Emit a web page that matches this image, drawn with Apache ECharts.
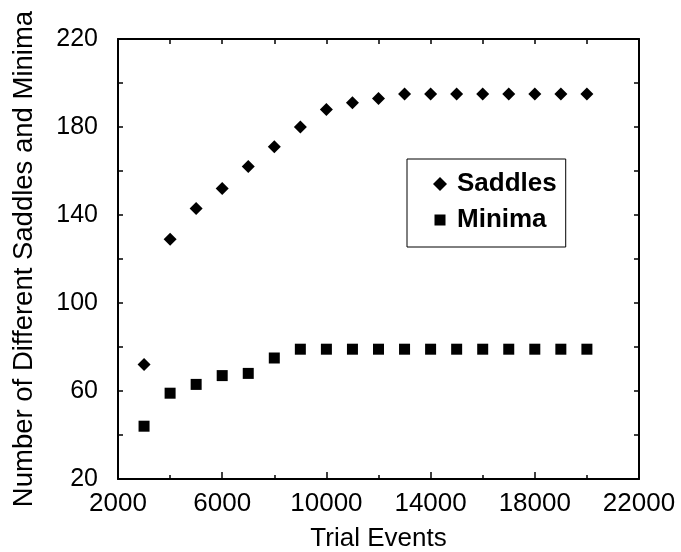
<!DOCTYPE html>
<html>
<head>
<meta charset="utf-8">
<script src="https://cdn.jsdelivr.net/npm/echarts@6/dist/echarts.min.js"></script>
<style>
html,body{margin:0;padding:0;background:#fff;}
#c{width:681px;height:552px;}
</style>
</head>
<body>
<div id="c"></div>
<script>
// ---- data ----
var trialEvents = [3000,4000,5000,6000,7000,8000,9000,10000,11000,12000,13000,14000,15000,16000,17000,18000,19000,20000];
var saddles     = [72,129,143,152,162,171,180,188,191,193,195,195,195,195,195,195,195,195];
var minima      = [44,59,63,67,68,75,79,79,79,79,79,79,79,79,79,79,79,79];
var xTickLabels = [2000,6000,10000,14000,18000,22000];
var yTickLabels = [20,60,100,140,180,220];
var seriesNames = ['Saddles','Minima'];

function pairs(xs, ys){ return xs.map(function(x,i){ return [x, ys[i]]; }); }
function plain(v){ return String(v); }

var FONT = 'Liberation Sans, Arial, Helvetica, sans-serif';
var chart = echarts.init(document.getElementById('c'), null, {renderer:'canvas'});
var option = {
  backgroundColor:'#ffffff',
  animation:false,
  textStyle:{fontFamily:FONT, color:'#000'},
  grid:{left:118, right:42, top:39, bottom:73, containLabel:false, outerBoundsMode:'none'},
  xAxis:[{
    type:'value', position:'bottom', min:2000, max:22000, interval:2000,
    name:'Trial Events', nameLocation:'middle', nameGap:47,
    nameTextStyle:{fontFamily:FONT, fontSize:26, color:'#000'},
    axisLine:{show:true, lineStyle:{color:'#000', width:2}},
    axisTick:{show:true, inside:true, length:4, lineStyle:{color:'#000', width:1.5}},
    axisLabel:{show:true, customValues:xTickLabels, formatter:plain, margin:12, fontFamily:FONT, fontSize:26, color:'#000'},
    splitLine:{show:false}
  },{
    type:'value', position:'bottom', min:2000, max:22000, interval:2000,
    axisLine:{show:false},
    axisTick:{show:true, inside:true, length:7, customValues:xTickLabels, lineStyle:{color:'#000', width:1.5}},
    axisLabel:{show:false},
    splitLine:{show:false}
  },{
    type:'value', position:'top', min:2000, max:22000, interval:2000,
    axisLine:{show:true, lineStyle:{color:'#000', width:2}},
    axisTick:{show:true, inside:true, length:5, lineStyle:{color:'#000', width:1.5}},
    axisLabel:{show:false},
    splitLine:{show:false}
  }],
  yAxis:[{
    type:'value', position:'left', min:20, max:220, interval:20,
    name:'Number of Different Saddles and Minima', nameLocation:'middle', nameGap:80, nameRotate:90,
    nameTextStyle:{fontFamily:FONT, fontSize:27.5, color:'#000'},
    axisLine:{show:true, lineStyle:{color:'#000', width:2}},
    axisTick:{show:true, inside:true, length:5, lineStyle:{color:'#000', width:1.5}},
    axisLabel:{show:true, customValues:yTickLabels, formatter:plain, margin:20, fontFamily:FONT, fontSize:25, color:'#000'},
    splitLine:{show:false}
  },{
    type:'value', position:'right', min:20, max:220, interval:20,
    axisLine:{show:true, lineStyle:{color:'#000', width:2}},
    axisTick:{show:true, inside:true, length:5, lineStyle:{color:'#000', width:1.5}},
    axisLabel:{show:false},
    splitLine:{show:false}
  }],
  legend:{
    orient:'vertical', left:407, top:159,
    padding:[12,9,14,26], itemGap:10,
    borderColor:'#000', borderWidth:1,
    itemWidth:24, itemHeight:14, symbolKeepAspect:true,
    inactiveColor:'#000',
    textStyle:{fontFamily:FONT, fontSize:26, fontWeight:'bold', color:'#000', padding:[0,0,0,0]},
    itemStyle:{opacity:1, color:'#000'},
    data:[
      {name:seriesNames[0], icon:'path://M7,0L14,7L7,14L0,7Z'},
      {name:seriesNames[1], icon:'path://M-1.5,-1.5Z M0,0L11,0L11,11L0,11Z M12.5,12.5Z'}
    ]
  },
  series:[{
    name:seriesNames[0], type:'scatter', xAxisIndex:0, yAxisIndex:0,
    symbol:'diamond', symbolSize:13,
    itemStyle:{color:'#000', opacity:1},
    emphasis:{disabled:true},
    data:pairs(trialEvents, saddles)
  },{
    name:seriesNames[1], type:'scatter', xAxisIndex:0, yAxisIndex:0,
    symbol:'rect', symbolSize:11,
    itemStyle:{color:'#000', opacity:1},
    emphasis:{disabled:true},
    data:pairs(trialEvents, minima)
  }]
};
chart.setOption(option);
</script>
</body>
</html>
